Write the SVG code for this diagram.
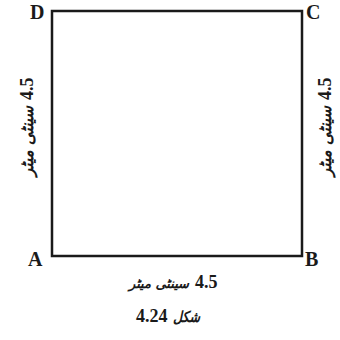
<svg xmlns="http://www.w3.org/2000/svg" width="340" height="340" viewBox="0 0 340 340">
<style>
.lbl{font-family:"Liberation Serif","Times New Roman",serif;font-weight:bold;font-size:20px;fill:#1a1a1a}
.num{font-family:"Liberation Serif","Times New Roman",serif;font-weight:bold;font-size:18px;fill:#1a1a1a}
.ur{font-family:"DejaVu Sans","Noto Sans",sans-serif;font-size:15px;font-weight:bold;font-style:italic;fill:#1a1a1a}
.urs{font-size:17px}
.urb{font-size:13px}
</style>
<rect width="340" height="340" fill="#fff"/>
<g id="square">
<rect x="52" y="11" width="250" height="245" fill="none" stroke="#1a1a1a" stroke-width="2.5"/>
</g>
<g id="D"><text class="lbl" x="30" y="19">D</text></g>
<g id="C"><text class="lbl" x="306" y="19">C</text></g>
<g id="A"><text class="lbl" x="28" y="266">A</text></g>
<g id="B"><text class="lbl" x="305" y="266">B</text></g>
<g id="left-label" transform="translate(33,130) rotate(-90)">
<text class="num" x="30" y="0">4.5</text>
<text class="ur urs" x="24" y="0" text-anchor="end" textLength="70" lengthAdjust="spacingAndGlyphs">سینٹی میٹر</text>
</g>
<g id="right-label" transform="translate(331,130) rotate(-90)">
<text class="num" x="30" y="0">4.5</text>
<text class="ur urs" x="24" y="0" text-anchor="end" textLength="70" lengthAdjust="spacingAndGlyphs">سینٹی میٹر</text>
</g>
<g id="bottom-label">
<text class="num" x="195" y="288">4.5</text>
<text class="ur urb" x="189" y="288" text-anchor="end">سینٹی میٹر</text>
</g>
<g id="caption">
<text class="num" x="136" y="322">4.24</text>
<text class="ur" x="200" y="322" text-anchor="end" textLength="27" lengthAdjust="spacingAndGlyphs">شکل</text>
</g>
</svg>
